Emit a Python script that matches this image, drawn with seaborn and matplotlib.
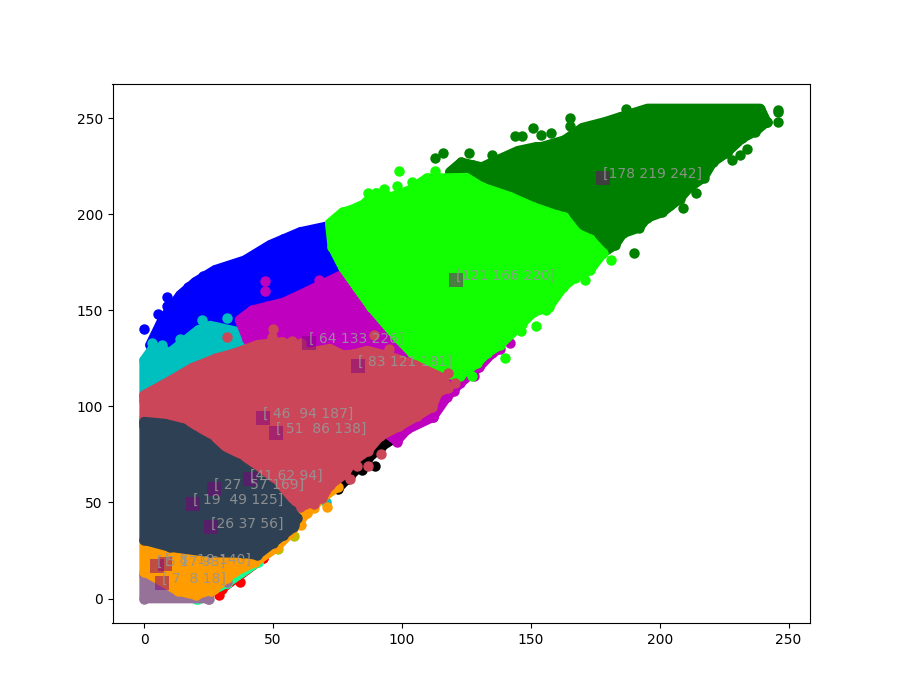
import matplotlib
matplotlib.use("Agg")
import matplotlib.pyplot as plt
import seaborn as sns

# cluster outlines and stray points (R on x, G on y)
black_x = [100, 92, 87, 80, 75, 70, 90]
black_y = [86, 79, 73, 64, 57, 70, 85]
black_px = [89.5, 84.5, 79]
black_py = [69, 67, 62]

blue_x = [2.3, 7, 14, 19.8, 27.5, 39, 48.8, 60.5, 72, 80, 29.5, 6]
blue_y = [132, 145, 158, 164.7, 171, 176, 184, 190.7, 194, 155, 134, 132]
blue_px = [0, 5.4, 9, 9, 13.5, 17, 23, 33, 44, 54, 66]
blue_py = [140, 148, 157, 152, 152, 162, 168, 173, 179, 187, 192]

red_x = [30, 46, 40]
red_y = [5, 21, 20]
red_px = [37, 29, 39, 46, 42]
red_py = [8.6, 2, 16, 21, 18]

spring_x = [20, 32, 44, 38]
spring_y = [0, 8, 19, 20]
spring_px = [21, 25.6, 32, 35, 44]
spring_py = [0, 3.4, 8, 12, 19]

mauve_x = [0, 0, 25, 25, 15]
mauve_y = [12, 0, 0, 3, 8]
mauve_px = [24.8, 32]
mauve_py = [0, 8.6]

yellow_x = [0, 3, 0]
yellow_y = [94, 92, 90]
yellow_px = [52, 58]
yellow_py = [25.7, 32.5]

cyan_x = [0, 3.6, 10, 21, 25.6, 37, 41, 30, 0]
cyan_y = [124, 130.8, 128, 139.7, 142, 138.6, 132, 115, 103]
cyan_px = [32, 3, 70.5, 22.5, 14, 7]
cyan_py = [146, 133, 50, 145, 135, 132]

magenta_x = [37, 42, 54, 60.5, 76, 90, 138, 135, 130, 122.5, 117.4, 112, 102, 98, 90, 60, 40]
magenta_y = [145, 150, 154, 158, 168, 160, 130, 127.7, 120.5, 112, 104.8, 94.4, 88, 82, 90, 120, 135]
magenta_px = [142, 112, 98, 47, 47, 68, 48, 128, 120]
magenta_py = [133, 94.4, 81.4, 160, 165, 166, 152, 116, 108]

green_x = [118.6, 123, 127.5, 131, 135, 145, 152, 154, 163, 170, 178.7, 184.5, 195.3, 203, 239, 241.5, 237,
           232, 226, 220.5, 217, 211.6, 207.7, 201, 195, 192, 185.7, 182.6, 175.6, 161]
green_y = [222, 227, 225.5, 224.5, 227, 233, 235, 235, 238.5, 245, 248, 250.5, 255, 255, 255, 248, 243,
           239.6, 232, 227, 219, 214, 208, 201, 198, 193, 190, 184, 177.7, 198.5]
green_px = [112.8, 116, 126, 135, 143.8, 146.5, 150.8, 154, 158, 165, 165, 187, 245.7, 245.7, 246,
            241.8, 233.7, 231, 228, 209, 190, 214, 204]
green_py = [229.2, 232, 232, 231, 240.6, 240.6, 244.8, 241, 242, 250, 246, 254.7, 254, 253, 248,
            248, 234, 230.7, 228, 203, 179.8, 211, 205]

lime_x = [72, 77, 80, 85, 90, 96, 103, 109.7, 120, 125, 131, 142, 151, 160, 163, 168, 173, 178, 173, 167,
          162.5, 157, 151, 146.5, 138, 133, 129, 122.5, 114.7, 104, 98, 88, 82.5, 77, 73]
lime_y = [195.3, 201, 202, 205, 211, 209, 212.5, 218.7, 218.8, 219, 214, 209, 203.7, 199.5, 198.5, 190, 187, 179.8, 171, 167,
          162, 151.7, 149, 143, 132, 127.7, 122.5, 116, 117, 127.7, 136, 151.7, 162, 172.5, 183]
lime_px = [99, 112.8, 98, 104, 86.8, 93, 181, 171, 152, 140, 127, 156, 146]
lime_py = [222.4, 222.4, 214.6, 216.7, 211, 213, 176, 165.7, 141.8, 125, 115.8, 150, 139]

orange_x = [0, 0, 6, 13, 20, 27, 32, 35, 43, 51.5, 56.6, 63, 69.4, 75, 60, 30]
orange_y = [30, 14, 9.6, 4, 1.8, 5, 10.7, 13.8, 19, 26.8, 34, 44.5, 52.8, 58, 60, 40]
orange_px = [71, 66, 26, 29, 48, 61]
orange_py = [47.6, 47, 4, 8, 24, 38]

crimson_x = [0, 7, 11, 18.6, 28, 35, 44, 53.5, 64, 72, 77, 81, 86.5, 95.3, 105, 115.9, 117.8, 114, 111.6,
             106, 99, 91.5, 86.8, 80.6, 78, 72, 69, 60.5, 50, 30, 10, 0]
crimson_y = [105.9, 111, 114, 120, 125, 127.6, 132, 133.5, 128, 130, 126.7, 127, 129, 126, 121.5, 114.7, 109.5, 107.4, 99.6,
             95, 89.7, 84.5, 77, 71, 65, 59, 52.3, 47.6, 45, 60, 80, 90]
crimson_px = [32, 50, 49.6, 57.4, 89, 95, 92, 87, 82.6, 80, 66, 118, 120.5, 61, 40, 25]
crimson_py = [136, 140, 136, 134, 137, 130, 75, 69, 69, 62, 49, 117.3, 112, 133, 128, 122]

slate_x = [0, 8, 14.7, 19, 24.4, 29.5, 36, 42, 48.8, 55.4, 59.3, 57.8, 53.9, 50, 43.8, 38.4, 25.6, 10, 0]
slate_y = [92, 91, 88.7, 85, 81, 74.7, 70.5, 65, 58, 47.6, 42, 37, 33, 29, 22.6, 23.7, 24, 26.8, 30.4]
slate_px = [57, 59, 58, 54]
slate_py = [46, 42, 38, 33]

# cluster centres (RGB)
center_r = [178, 121, 64, 83, 46, 51, 41, 27, 19, 26, 5, 8, 7]
center_g = [219, 166, 133, 121, 94, 86, 62, 57, 49, 37, 17, 18, 8]
center_labels = ["[178 219 242]", "[121 166 220]", "[ 64 133 226]", "[ 83 121 181]",
                 "[ 46  94 187]", "[ 51  86 138]", "[41 62 94]", "[ 27  57 169]",
                 "[ 19  49 125]", "[26 37 56]", "[ 5 17 93]", "[  8  18 140]", "[ 7  8 18]"]

# back to front, same order the clusters overlap in the picture
clusters = [
    ("k", black_x, black_y, black_px, black_py),
    ("r", red_x, red_y, red_px, red_py),
    ("#14ff96", spring_x, spring_y, spring_px, spring_py),
    ("#967299", mauve_x, mauve_y, mauve_px, mauve_py),
    ("y", yellow_x, yellow_y, yellow_px, yellow_py),
    ("b", blue_x, blue_y, blue_px, blue_py),
    ("c", cyan_x, cyan_y, cyan_px, cyan_py),
    ("m", magenta_x, magenta_y, magenta_px, magenta_py),
    ("g", green_x, green_y, green_px, green_py),
    ("#12ff02", lime_x, lime_y, lime_px, lime_py),
    ("#ff9c00", orange_x, orange_y, orange_px, orange_py),
    ("#cb4658", crimson_x, crimson_y, crimson_px, crimson_py),
    ("#2e4053", slate_x, slate_y, slate_px, slate_py),
]

fig, ax = plt.subplots(figsize=(9, 7))

for color, xs, ys, px, py in clusters:
    # the inside of a cluster is solid, so fill it and put the dots round the edge
    ax.fill(xs, ys, color=color, lw=7, joinstyle="round")
    sns.scatterplot(x=xs + px, y=ys + py, color=color, s=36, edgecolor=color, linewidth=1.5, ax=ax)

sns.scatterplot(x=center_r, y=center_g, marker="s", s=90, color="purple", alpha=0.5, linewidth=0, ax=ax, zorder=5)
for r, g, label in zip(center_r, center_g, center_labels):
    ax.text(r, g, label, color="#969696", alpha=0.9, fontsize=10, zorder=6)

plt.savefig("out.png", dpi=100)
